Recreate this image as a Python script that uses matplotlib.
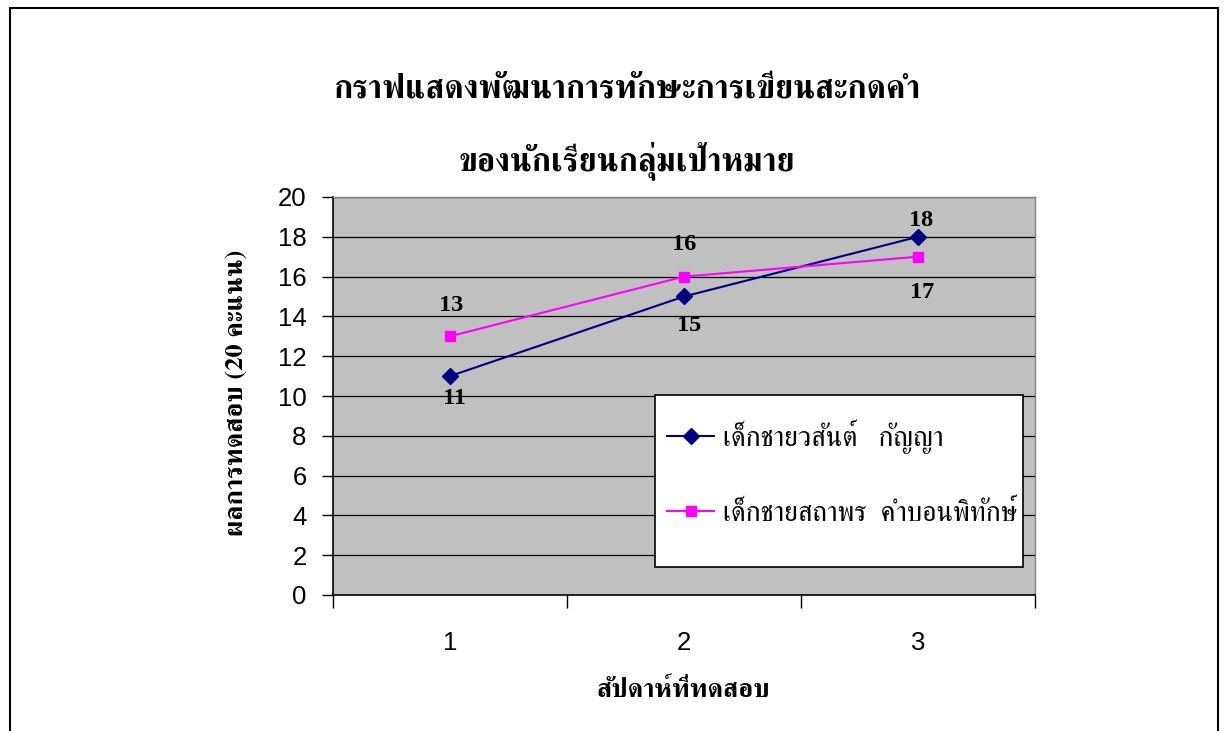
import matplotlib
matplotlib.use("Agg")
import matplotlib.pyplot as plt
from matplotlib.patches import Rectangle

# ---- data ----
weeks = [1, 2, 3]
week_labels = ["1", "2", "3"]
series1_name = "เด็กชายวสันต์   กัญญา"
series1 = [11, 15, 18]
series2_name = "เด็กชายสถาพร  คำบอนพิทักษ์"
series2 = [13, 16, 17]
y_ticks = [0, 2, 4, 6, 8, 10, 12, 14, 16, 18, 20]
title_lines = ["กราฟแสดงพัฒนาการทักษะการเขียนสะกดคำ", "ของนักเรียนกลุ่มเป้าหมาย"]
x_title = "สัปดาห์ที่ทดสอบ"
y_title = "ผลการทดสอบ (20 คะแนน)"

THAI = ["FreeSerif", "DejaVu Sans"]
SANS = ["Liberation Sans", "DejaVu Sans"]
SERIF = ["Liberation Serif", "DejaVu Serif"]

W, H = 1227, 731
fig = plt.figure(figsize=(W / 100, H / 100), dpi=100)

def fx(px):
    return px / W

def fy(py):
    return 1 - py / H

# outer border
fig.patches.append(Rectangle((fx(10), fy(760)), fx(1218) - fx(10), fy(8) - fy(760),
                             transform=fig.transFigure, fill=False,
                             edgecolor="black", linewidth=1.5))

ax = fig.add_axes([fx(333), fy(595), fx(1035) - fx(333), fy(197) - fy(595)])
ax.set_facecolor("#C0C0C0")
ax.set_xlim(0.5, 3.5)
ax.set_ylim(0, 20)
ax.set_yticks(y_ticks)
ax.set_yticklabels([str(v) for v in y_ticks], family=SANS, fontsize=18.5)
for v in y_ticks[1:]:
    ax.axhline(v, color="black", linewidth=0.9, zorder=1)

ax.set_xticks(weeks)
ax.set_xticklabels(week_labels, family=SANS, fontsize=18.5)
ax.set_xticks([0.5, 1.5, 2.5, 3.5], minor=True)
ax.tick_params(axis="x", which="major", length=0, pad=26)
ax.tick_params(axis="x", which="minor", length=9, width=1, direction="out")
ax.tick_params(axis="y", length=8, width=1, direction="out", pad=11)
for s in ["left", "bottom"]:
    ax.spines[s].set_color("black")
    ax.spines[s].set_linewidth(1.2)
for s in ["top", "right"]:
    ax.spines[s].set_color("#808080")
    ax.spines[s].set_linewidth(1.0)

l1, = ax.plot(weeks, series1, color="#000080", linewidth=1.5, marker="D",
              markersize=8, markerfacecolor="#000080", markeredgecolor="#000080",
              zorder=3, label=series1_name)
l2, = ax.plot(weeks, series2, color="#FF00FF", linewidth=1.5, marker="s",
              markersize=7.5, markerfacecolor="#FF00FF", markeredgecolor="#FF00FF",
              zorder=3, label=series2_name)

# data labels (offsets in points)
off1 = [(3, -16), (4, -21), (2, 12)]
off2 = [(1, 22), (0, 23), (3, -26)]
for xv, yv, o in zip(weeks, series1, off1):
    ax.annotate(str(yv), (xv, yv), xytext=o, textcoords="offset points",
                ha="center", va="center", family=SERIF, fontweight="bold",
                fontsize=17.5, zorder=4)
for xv, yv, o in zip(weeks, series2, off2):
    ax.annotate(str(yv), (xv, yv), xytext=o, textcoords="offset points",
                ha="center", va="center", family=SERIF, fontweight="bold",
                fontsize=17.5, zorder=4)

# titles
fig.text(fx(627), fy(89), title_lines[0], ha="center", va="center",
         family=THAI, fontweight="bold", fontsize=23.5)
fig.text(fx(627), fy(161), title_lines[1], ha="center", va="center",
         family=THAI, fontweight="bold", fontsize=23.5)
fig.text(fx(683), fy(690), x_title, ha="center", va="center",
         family=THAI, fontweight="bold", fontsize=19)
fig.text(fx(237), fy(393), y_title, ha="center", va="center", rotation=90,
         family=THAI, fontweight="bold", fontsize=19)

# legend box
fig.patches.append(Rectangle((fx(655), fy(567)), fx(1023) - fx(655), fy(395) - fy(567),
                             transform=fig.transFigure, facecolor="white",
                             edgecolor="black", linewidth=1.2, zorder=5))
leg = fig.legend(handles=[l1, l2], labels=[series1_name, series2_name],
                 loc="center left", bbox_to_anchor=(fx(667), fy(473)),
                 frameon=False, prop={"family": THAI, "size": 20},
                 handlelength=1.7, handletextpad=0.3, labelspacing=1.65,
                 borderaxespad=0, borderpad=0)
leg.set_zorder(6)

fig.savefig("out.png", dpi=100)
